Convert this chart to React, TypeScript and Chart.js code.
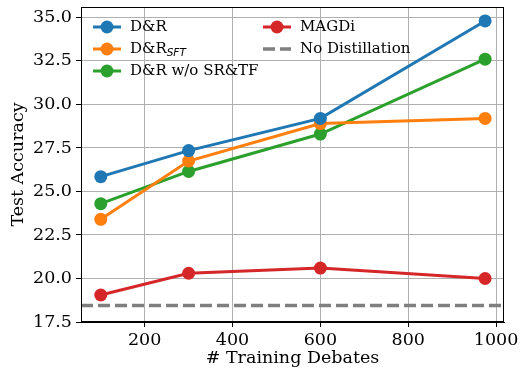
import { useEffect, useRef } from 'react';
import { Chart, registerables } from 'chart.js';

Chart.register(...registerables);

const trainingDebates = [100, 300, 600, 975];
const drValues = [25.85, 27.35, 29.2, 34.8];
const drSftValues = [23.4, 26.75, 28.9, 29.2];
const drNoSrTfValues = [24.3, 26.15, 28.3, 32.6];
const magdiValues = [19.05, 20.3, 20.6, 20.0];
const noDistillation = 18.45;
const xTicks = [200, 400, 600, 800, 1000];
const yTicks = [17.5, 20, 22.5, 25, 27.5, 30, 32.5, 35];

const BLUE = '#1f77b4';
const ORANGE = '#ff7f0e';
const GREEN = '#2ca02c';
const RED = '#d62728';
const GRAY = '#7f7f7f';
const FONT = '"DejaVu Serif", serif';

const legendEntries = [
  { label: 'D&R', sub: '', color: BLUE, dashed: false, col: 0, row: 0 },
  { label: 'D&R', sub: 'SFT', color: ORANGE, dashed: false, col: 0, row: 1 },
  { label: 'D&R w/o SR&TF', sub: '', color: GREEN, dashed: false, col: 0, row: 2 },
  { label: 'MAGDi', sub: '', color: RED, dashed: false, col: 1, row: 0 },
  { label: 'No Distillation', sub: '', color: GRAY, dashed: true, col: 1, row: 1 },
];

const baselinePlugin = {
  id: 'baseline',
  beforeDatasetsDraw(chart: any) {
    const { ctx, chartArea: a, scales } = chart;
    const y = scales.y.getPixelForValue(noDistillation);
    ctx.save();
    ctx.beginPath();
    ctx.rect(a.left, a.top, a.right - a.left, a.bottom - a.top);
    ctx.clip();
    ctx.strokeStyle = GRAY;
    ctx.lineWidth = 3.5;
    ctx.setLineDash([12, 5]);
    ctx.beginPath();
    ctx.moveTo(a.left, y);
    ctx.lineTo(a.right, y);
    ctx.stroke();
    ctx.restore();
  },
};

const framePlugin = {
  id: 'frame',
  afterDatasetsDraw(chart: any) {
    const { ctx, chartArea: a } = chart;
    ctx.save();
    ctx.strokeStyle = '#000';
    ctx.lineWidth = 1;
    ctx.strokeRect(Math.round(a.left) + 0.5, Math.round(a.top) + 0.5, Math.round(a.right - a.left) - 1, Math.round(a.bottom - a.top) - 1);
    ctx.restore();
  },
};

const legendPlugin = {
  id: 'mplLegend',
  afterDraw(chart: any) {
    const { ctx, chartArea: a } = chart;
    ctx.save();
    legendEntries.forEach((e) => {
      const x0 = a.left + (e.col === 0 ? 12 : 182);
      const y = a.top + 20 + e.row * 22;
      ctx.strokeStyle = e.color;
      if (e.dashed) {
        ctx.lineWidth = 3.5;
        ctx.setLineDash([12, 5]);
      } else {
        ctx.lineWidth = 3;
        ctx.setLineDash([]);
      }
      ctx.beginPath();
      ctx.moveTo(x0, y);
      ctx.lineTo(x0 + 28, y);
      ctx.stroke();
      ctx.setLineDash([]);
      if (!e.dashed) {
        ctx.fillStyle = e.color;
        ctx.beginPath();
        ctx.arc(x0 + 14, y, 6.5, 0, Math.PI * 2);
        ctx.fill();
      }
      ctx.fillStyle = '#000';
      ctx.textBaseline = 'middle';
      ctx.textAlign = 'left';
      ctx.font = `15px ${FONT}`;
      const tx = x0 + 37;
      ctx.fillText(e.label, tx, y);
      if (e.sub) {
        const w = ctx.measureText(e.label).width;
        ctx.font = 'italic 10.5px "DejaVu Sans", sans-serif';
        ctx.fillText(e.sub, tx + w, y + 4);
      }
    });
    ctx.restore();
  },
};

const toPoints = (ys: number[]) => trainingDebates.map((x, i) => ({ x, y: ys[i] }));

const lineDs = (label: string, ys: number[], color: string) => ({
  label,
  data: toPoints(ys),
  borderColor: color,
  backgroundColor: color,
  borderWidth: 3,
  pointRadius: 6.5,
  pointHoverRadius: 6.5,
  pointBorderWidth: 0,
  pointBackgroundColor: color,
  tension: 0,
});

export default function App() {
  const ref = useRef<HTMLCanvasElement>(null);
  useEffect(() => {
    if (!ref.current) return;
    const chart = new Chart(ref.current, {
      type: 'line',
      data: {
        datasets: [
          lineDs('D&R', drValues, BLUE),
          lineDs('D&R_SFT', drSftValues, ORANGE),
          lineDs('D&R w/o SR&TF', drNoSrTfValues, GREEN),
          lineDs('MAGDi', magdiValues, RED),
        ],
      },
      options: {
        responsive: false,
        animation: false,
        events: [],
        layout: { padding: { top: 7, right: 17, left: 0, bottom: 0 } },
        plugins: {
          legend: { display: false },
          tooltip: { enabled: false },
        },
        scales: {
          x: {
            type: 'linear',
            min: 55,
            max: 1018,
            afterBuildTicks: (s: any) => {
              s.ticks = xTicks.map((v) => ({ value: v }));
            },
            afterFit: (s: any) => {
              s.height = 50;
              s.paddingLeft = 0;
              s.paddingRight = 0;
            },
            grid: { color: '#b0b0b0', lineWidth: 1, tickColor: '#000', tickLength: 5, drawTicks: true },
            border: { color: '#000', width: 1 },
            ticks: { color: '#000', padding: 3, font: { family: FONT, size: 17.5 }, maxRotation: 0, callback: (v: any) => String(v) },
            title: { display: true, text: '# Training Debates', color: '#000', font: { family: FONT, size: 17.5 }, padding: { top: 0, bottom: 3 } },
          },
          y: {
            type: 'linear',
            min: 17.5,
            max: 35.6,
            afterBuildTicks: (s: any) => {
              s.ticks = yTicks.map((v) => ({ value: v }));
            },
            afterFit: (s: any) => {
              s.width = 81;
              s.paddingTop = 0;
              s.paddingBottom = 0;
            },
            grid: { color: '#b0b0b0', lineWidth: 1, tickColor: '#000', tickLength: 5, drawTicks: true },
            border: { color: '#000', width: 1 },
            ticks: { color: '#000', padding: 4, font: { family: FONT, size: 17.5 }, callback: (v: any) => Number(v).toFixed(1) },
            title: { display: true, text: 'Test Accuracy', color: '#000', font: { family: FONT, size: 17.5 }, padding: { top: 8, bottom: 0 } },
          },
        },
      },
      plugins: [baselinePlugin, framePlugin, legendPlugin],
    });
    return () => chart.destroy();
  }, []);
  return (
    <div style={{ position: 'fixed', left: 0, top: 0, width: 521, height: 372, background: '#fff' }}>
      <canvas ref={ref} width={521} height={372} />
    </div>
  );
}
